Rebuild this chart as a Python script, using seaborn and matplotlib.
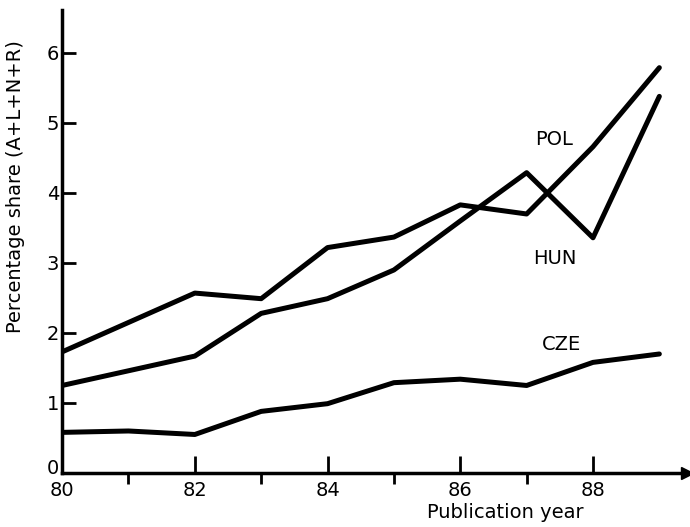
import matplotlib
matplotlib.use("Agg")
import matplotlib.pyplot as plt
import matplotlib.transforms as mtransforms
import numpy as np
import pandas as pd
import seaborn as sns

sns.set_style("ticks")
plt.rcParams['font.family'] = ['DejaVu Sans']
plt.rcParams.update({"text.color": "black", "axes.labelcolor": "black",
                     "xtick.color": "black", "ytick.color": "black",
                     "axes.edgecolor": "black"})

# data
years = [80, 81, 82, 83, 84, 85, 86, 87, 88, 89]
pol = [1.73, 2.15, 2.57, 2.49, 3.22, 3.37, 3.83, 3.70, 4.66, 5.79]
hun = [1.25, 1.46, 1.67, 2.28, 2.49, 2.90, 3.60, 4.29, 3.36, 5.38]
cze = [0.58, 0.60, 0.55, 0.88, 0.99, 1.29, 1.34, 1.25, 1.58, 1.70]
countries = ["POL", "HUN", "CZE"]
label_pos = {"POL": (87.42, 4.76), "HUN": (87.42, 3.07), "CZE": (87.52, 1.83)}

df = pd.DataFrame({
    "year": years * 3,
    "share": pol + hun + cze,
    "country": np.repeat(countries, len(years)),
})

fig = plt.figure(figsize=(6.9, 5.27), dpi=100)
ax = fig.add_axes([0.09, 0.1025, 0.905, 0.878])

sns.lineplot(data=df, x="year", y="share", units="country", estimator=None,
             color="black", linewidth=3.6, ax=ax, legend=False)

for name in countries:
    x, y = label_pos[name]
    ax.text(x, y, name, fontsize=14, ha="center", va="center")

ax.set_xlim(80, 89.41)
ax.set_ylim(0, 6.61)
ax.set_xticks([80, 82, 84, 86, 88])
ax.set_xticks([81, 83, 85, 87], minor=True)
ax.set_yticks(range(0, 7))
ax.tick_params(axis="both", direction="in", width=2, labelsize=14)
ax.tick_params(axis="x", which="major", length=12, pad=6)
ax.tick_params(axis="x", which="minor", length=8, width=2)
ax.tick_params(axis="y", length=10, pad=2)

# the "0" sits just above the "80" as in the original
zero = ax.get_yticklabels()[0]
zero.set_transform(zero.get_transform() + mtransforms.ScaledTranslation(0, 5 / 72, fig.dpi_scale_trans))

sns.despine(ax=ax)
for side in ["left", "bottom"]:
    ax.spines[side].set_linewidth(2.5)

# arrow heads on the axes
ax.plot(1, 0, ">k", markersize=9, transform=ax.get_yaxis_transform(), clip_on=False)
ax.plot(0, 1, "^k", markersize=9, transform=ax.get_xaxis_transform(), clip_on=False)

ax.set_xlabel("Publication year", fontsize=14)
ax.xaxis.set_label_coords(0.71, -0.065)
ax.set_ylabel("Percentage share (A+L+N+R)", fontsize=14)
ax.yaxis.set_label_coords(-0.06, 0.62)

fig.savefig("out.png", dpi=100)
